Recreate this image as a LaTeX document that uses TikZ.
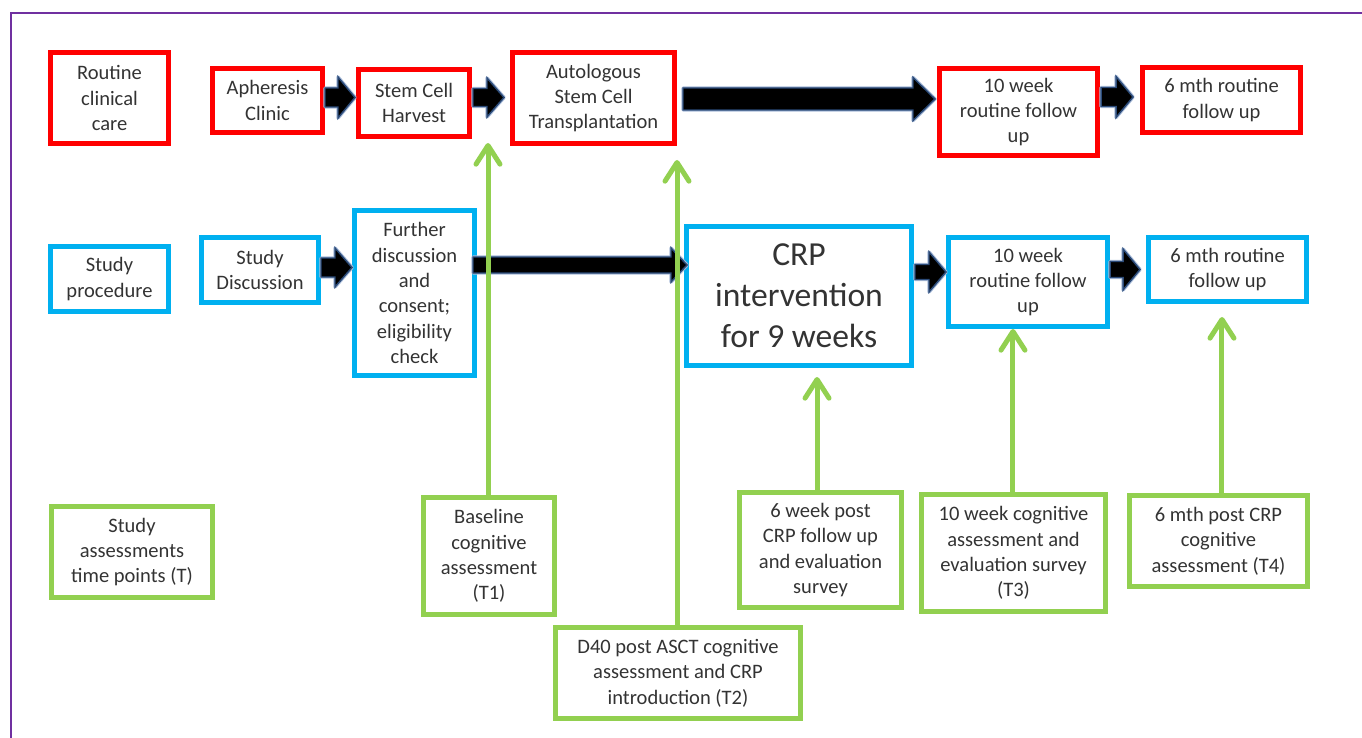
\documentclass[tikz,border=0pt]{standalone}
\usepackage{fontspec}
\setmainfont{Carlito}
\usetikzlibrary{calc,arrows.meta}
\definecolor{rcol}{HTML}{FF0000}
\definecolor{bcol}{HTML}{00B0F0}
\definecolor{gcol}{HTML}{92D050}
\definecolor{txt}{HTML}{333333}
\definecolor{frame}{HTML}{7030A0}
\definecolor{navy}{HTML}{2B4A78}
\definecolor{glow}{HTML}{A9BCD9}
\tikzset{
  box/.style={draw, line width=3.75pt, align=center, inner sep=0pt, text=txt,
    font=\fontsize{15.4}{19}\selectfont},
  rbox/.style={box, draw=rcol},
  bbox/.style={box, draw=bcol},
  gbox/.style={box, draw=gcol},
  sz/.style n args={2}{minimum width=#1, minimum height=#2},
  garrow/.style={draw=gcol, line width=3.75pt, line cap=round,
    -{Straight Barb[length=14pt,width=18pt,round]}},
  blkglow/.style={draw=glow, line width=2.6pt, line join=round},
  blkbody/.style={fill=black, draw=navy, line width=1.1pt, line join=miter},
  frameline/.style={draw=frame, line width=0.8pt}
}
% #1 from node, #2 to node, #3 centre y, #4 tail gap, #5 tip gap, #6 shaft half, #7 head half, #8 head length
\newcommand{\blkarrow}[8]{%
  \coordinate (bt) at ($(#1.east |- 0,#3)+(#4,0)$);
  \coordinate (bh) at ($(#2.west |- 0,#3)-(#5,0)$);
  \foreach \sty in {blkglow,blkbody}{
  \path[\sty] ($(bt)+(0,-#6)$) -- ($(bh)+(-#8,-#6)$) -- ($(bh)+(-#8,-#7)$) -- (bh)
     -- ($(bh)+(-#8,#7)$) -- ($(bh)+(-#8,#6)$) -- ($(bt)+(0,#6)$) -- cycle;}
}
\begin{document}
\begin{tikzpicture}[x=0.75pt,y=-0.75pt]
\useasboundingbox (0,0) rectangle (1362,738);
\draw[frameline] (11,738) -- (11,13) -- (1362,13);

% red row
\node[rbox, sz={88.5pt}{68.25pt}] (routine) at (109.5,98) {Routine\\clinical\\care};
\node[rbox, sz={82.5pt}{48pt}] (apher) at (267.5,100.5) {Apheresis\\Clinic};
\node[rbox, sz={83.25pt}{50.25pt}] (harvest) at (414,103) {Stem Cell\\Harvest};
\node[rbox, sz={121.5pt}{68.25pt}] (asct) at (593.5,98) {Autologous\\Stem Cell\\Transplantation};
\node[rbox, sz={118.5pt}{65.25pt}] (r10) at (1018.5,112) {10 week\\routine follow\\up};
\node[rbox, sz={118.5pt}{48.75pt}] (r6) at (1221.5,100) {6 mth routine\\follow up};

% blue row
\node[bbox, sz={88.5pt}{48.75pt}] (sproc) at (109.5,279) {Study\\procedure};
\node[bbox, sz={87.75pt}{48.75pt}] (sdisc) at (260,270) {Study\\Discussion};
\node[bbox, sz={90pt}{123.75pt}] (further) at (414.5,293) {Further\\discussion\\and\\consent;\\eligibility\\check};
\node[bbox, sz={168.75pt}{104.25pt}, font=\fontsize{25.2}{30.8}\selectfont] (crp) at (799,296) {CRP\\intervention\\for 9 weeks};
\node[bbox, sz={119.25pt}{66.75pt}] (b10) at (1028,282) {10 week\\routine follow\\up};
\node[bbox, sz={118.5pt}{48pt}] (b6) at (1227.5,269.5) {6 mth routine\\follow up};

% green row
\node[gbox, sz={120.75pt}{68.25pt}] (gT) at (132,552) {Study\\assessments\\time points (T)};
\node[gbox, sz={98.25pt}{87.75pt}] (gT1) at (489,556) {Baseline\\cognitive\\assessment\\(T1)};
\node[gbox, sz={183.75pt}{68.25pt}] (gT2) at (678,673) {D40 post ASCT cognitive\\assessment and CRP\\introduction (T2)};
\node[gbox, sz={121.5pt}{86.25pt}] (g6w) at (820.5,550) {6 week post\\CRP follow up\\and evaluation\\survey};
\node[gbox, sz={138pt}{87.75pt}] (gT3) at (1013.5,553) {10 week cognitive\\assessment and\\evaluation survey\\(T3)};
\node[gbox, sz={133.5pt}{68.25pt}] (gT4) at (1218.5,541) {6 mth post CRP\\cognitive\\assessment (T4)};

% block arrows
\blkarrow{apher}{harvest}{97.5}{0}{1}{9.5}{20.5}{17}
\blkarrow{harvest}{asct}{97.5}{1}{6}{9}{19.5}{17}
\blkarrow{asct}{r10}{99}{6}{2}{11}{21.5}{22}
\blkarrow{r10}{r6}{97}{1}{7}{9.5}{20.5}{17}
\blkarrow{sdisc}{further}{267.5}{0}{0}{9.5}{19.5}{17}
\blkarrow{further}{crp}{265}{-4}{-3}{8}{17}{16}
\blkarrow{crp}{b10}{272}{1}{0}{7.5}{20}{17}
\blkarrow{b10}{b6}{269.5}{0}{6}{8}{20.5}{17}

% green arrows
\draw[garrow, shorten >=3pt] ([xshift=-0.75pt]gT1.north) -- ([xshift=-0.75pt]gT1.north |- harvest.south);
\draw[garrow, shorten >=10.5pt] ([xshift=-0.75pt]gT2.north) -- ([xshift=-0.75pt]gT2.north |- asct.south);
\draw[garrow, shorten >=6.75pt] ([xshift=-2.6pt]g6w.north) -- ([xshift=-2.6pt]g6w.north |- crp.south);
\draw[garrow, shorten >=0pt] ([xshift=-0.4pt]gT3.north) -- ([xshift=-0.4pt]gT3.north |- b10.south);
\draw[garrow, shorten >=9.75pt] ([xshift=2.6pt]gT4.north) -- ([xshift=2.6pt]gT4.north |- b6.south);
\end{tikzpicture}
\end{document}
